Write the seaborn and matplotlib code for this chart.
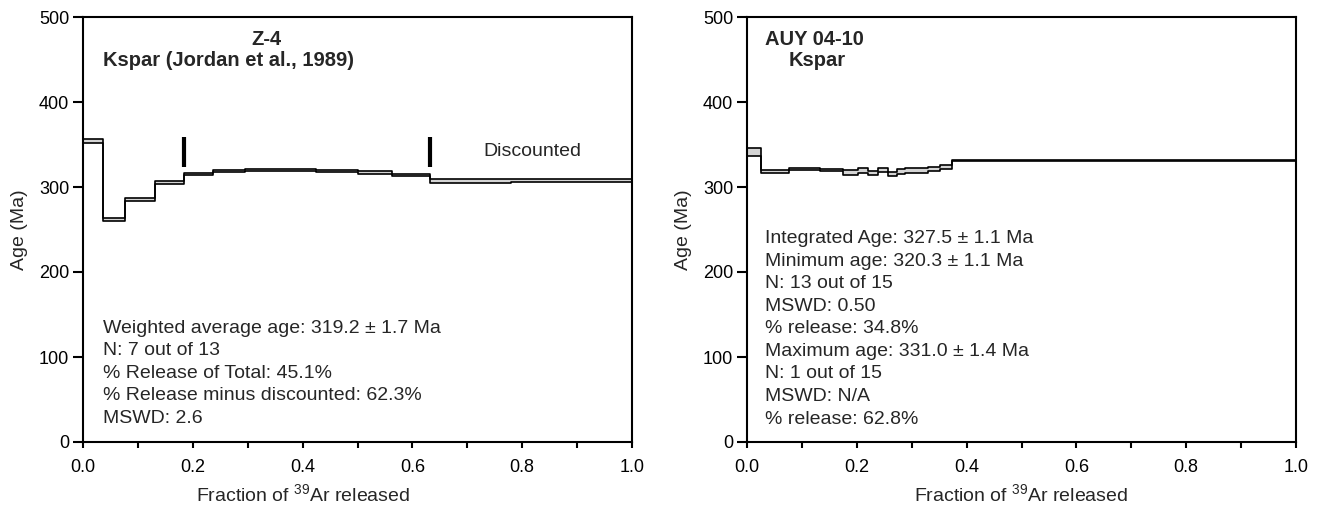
import numpy as np
import pandas as pd
import matplotlib
matplotlib.use("Agg")
import matplotlib.pyplot as plt
import seaborn as sns
from matplotlib.ticker import MultipleLocator

# Z-4 K-feldspar (left panel): cumulative 39Ar fraction at end of each step, age, 1 sigma
z4_frac_end = [0.036, 0.076, 0.131, 0.184, 0.236, 0.295, 0.353, 0.425, 0.500, 0.562, 0.632, 0.780, 1.000]
z4_age = [354, 262, 285, 305, 315, 319, 320, 320, 319, 317, 314, 307, 308]
z4_err = [2.2, 1.6, 1.5, 1.6, 1.4, 1.2, 1.5, 1.5, 1.5, 1.4, 1.4, 1.9, 1.8]
z4_marks = [0.184, 0.632]

# AUY 04-10 K-feldspar (right panel)
auy_frac_end = [0.0255, 0.0765, 0.133, 0.175, 0.202, 0.220, 0.2386, 0.257, 0.273, 0.288,
                0.310, 0.330, 0.3515, 0.3734, 1.000]
auy_age = [341, 318.5, 321, 320, 317, 319.4, 316.5, 320, 315.3, 318.2, 319.4, 319.4, 321.2, 323.5, 331.0]
auy_err = [4.5, 1.5, 1.4, 1.5, 2.6, 2.6, 2.6, 2.8, 2.8, 2.6, 2.6, 2.6, 2.8, 2.8, 0.6]

z4_text = ["Weighted average age: 319.2 \u00b1 1.7 Ma",
           "N: 7 out of 13",
           "% Release of Total: 45.1%",
           "% Release minus discounted: 62.3%",
           "MSWD: 2.6"]
auy_text = ["Integrated Age: 327.5 \u00b1 1.1 Ma",
            "Minimum age: 320.3 \u00b1 1.1 Ma",
            "N: 13 out of 15",
            "MSWD: 0.50",
            "% release: 34.8%",
            "Maximum age: 331.0 \u00b1 1.4 Ma",
            "N: 1 out of 15",
            "MSWD: N/A",
            "% release: 62.8%"]

sns.set_style("ticks")
plt.rcParams["font.family"] = ["Liberation Sans", "DejaVu Sans"]


def spectrum(ax, frac_end, age, err):
    x = np.r_[0.0, frac_end]
    age = np.asarray(age, float)
    err = np.asarray(err, float)
    df = pd.DataFrame({"x": x,
                       "hi": np.r_[age + err, age[-1] + err[-1]],
                       "lo": np.r_[age - err, age[-1] - err[-1]]})
    ax.fill_between(df["x"], df["lo"], df["hi"], step="post", color="#d4d4d4", lw=0)
    sns.lineplot(data=df, x="x", y="hi", drawstyle="steps-post", color="black",
                 lw=1.2, estimator=None, sort=False, ax=ax)
    sns.lineplot(data=df, x="x", y="lo", drawstyle="steps-post", color="black",
                 lw=1.2, estimator=None, sort=False, ax=ax)


def style(ax, xlabel_x=0.5):
    ax.set_xlim(0, 1)
    ax.set_ylim(0, 500)
    ax.xaxis.set_major_locator(MultipleLocator(0.2))
    ax.xaxis.set_minor_locator(MultipleLocator(0.1))
    ax.yaxis.set_major_locator(MultipleLocator(100))
    ax.xaxis.set_major_formatter(matplotlib.ticker.FormatStrFormatter("%.1f"))
    for s in ax.spines.values():
        s.set_linewidth(1.5)
        s.set_color("black")
    ax.tick_params(axis="x", which="both", direction="out", length=4, width=1.5,
                   labelsize=13, pad=8, colors="black")
    ax.tick_params(axis="y", direction="out", length=7, width=1.5, labelsize=13,
                   pad=3, colors="black")
    ax.set_xlabel("Fraction of $^{\\mathregular{39}}$Ar released", fontsize=14)
    ax.xaxis.set_label_coords(xlabel_x, -0.097)
    ax.set_ylabel("Age (Ma)", fontsize=14)
    ax.yaxis.set_label_coords(-0.10, 0.5)


fig = plt.figure(figsize=(13.18, 5.07), dpi=100)
ax1 = fig.add_axes([83 / 1318, 65 / 507, 549 / 1318, 425 / 507])
ax2 = fig.add_axes([747 / 1318, 65 / 507, 549 / 1318, 425 / 507])

# left panel
spectrum(ax1, z4_frac_end, z4_age, z4_err)
ax1.vlines(z4_marks, 324, 359, color="black", lw=3)
style(ax1, xlabel_x=0.40)
ax1.text(0.335, 474, "Z-4", fontsize=14.5, fontweight="bold", ha="center", va="center")
ax1.text(0.036, 449, "Kspar (Jordan et al., 1989)", fontsize=14.5, fontweight="bold",
         ha="left", va="center")
ax1.text(0.818, 342, "Discounted", fontsize=14, ha="center", va="center")
for i, line in enumerate(z4_text):
    ax1.text(0.036, 134 - i * 26.5, line, fontsize=14, ha="left", va="center")

# right panel
spectrum(ax2, auy_frac_end, auy_age, auy_err)
style(ax2)
ax2.text(0.033, 474, "AUY 04-10", fontsize=14.5, fontweight="bold", ha="left", va="center")
ax2.text(0.128, 449, "Kspar", fontsize=14.5, fontweight="bold", ha="center", va="center")
for i, line in enumerate(auy_text):
    ax2.text(0.033, 239 - i * 26.5, line, fontsize=14, ha="left", va="center")

fig.savefig("out.png", dpi=100)
